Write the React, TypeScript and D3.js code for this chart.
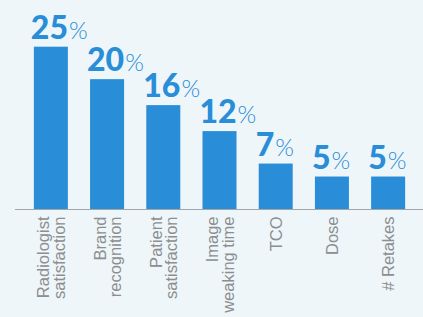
import React from 'react'
import * as d3 from 'd3'

const categories = [
  ['Radiologist', 'satisfaction'],
  ['Brand', 'recognition'],
  ['Patient', 'satisfaction'],
  ['Image', 'weaking time'],
  ['TCO'],
  ['Dose'],
  ['# Retakes'],
]
const values = [25, 20, 16, 12, 7, 5, 5]

const W = 423
const H = 317
const blue = '#2a8dd8'

const App: React.FC = () => {
  const keys = categories.map((c) => c.join(' '))
  const x = d3.scaleBand().domain(keys).range([17, 422]).paddingInner(0.395).paddingOuter(0.3)
  const y = d3.scaleLinear().domain([0, 25]).range([209, 46.7])

  return (
    <svg width={W} height={H} style={{ position: 'absolute', left: 0, top: 0 }}>
      <rect width={W} height={H} fill="#eef6f9" />
      {values.map((v, i) => {
        const bx = x(keys[i]) as number
        return (
          <g key={keys[i]}>
            <rect x={bx} y={y(v)} width={x.bandwidth()} height={y(0) - y(v)} fill={blue} />
            <text x={bx - 3} y={y(v) - 8} fill={blue} fontFamily="Lato, 'Open Sans', sans-serif">
              <tspan fontSize={32} fontWeight={900}>{v}</tspan>
              <tspan fontSize={24} fontWeight={300} dx={1}>%</tspan>
            </text>
          </g>
        )
      })}
      <line x1={15} x2={W} y1={y(0) + 0.5} y2={y(0) + 0.5} stroke="#a3a6a8" strokeWidth={1.2} />
      {categories.map((lines, i) => {
        const c = (x(keys[i]) as number) + x.bandwidth() / 2
        return lines.map((ln, j) => {
          const bx = c + 6.25 + (j - (lines.length - 1) / 2) * 15.5
          return (
            <text
              key={keys[i] + j}
              transform={`translate(${bx},216.5) rotate(-90)`}
              textAnchor="end"
              fontSize={16.5}
              fill="#8c8e90"
              fontFamily="'Liberation Sans', Arial, sans-serif"
            >
              {ln}
            </text>
          )
        })
      })}
    </svg>
  )
}

export default App
